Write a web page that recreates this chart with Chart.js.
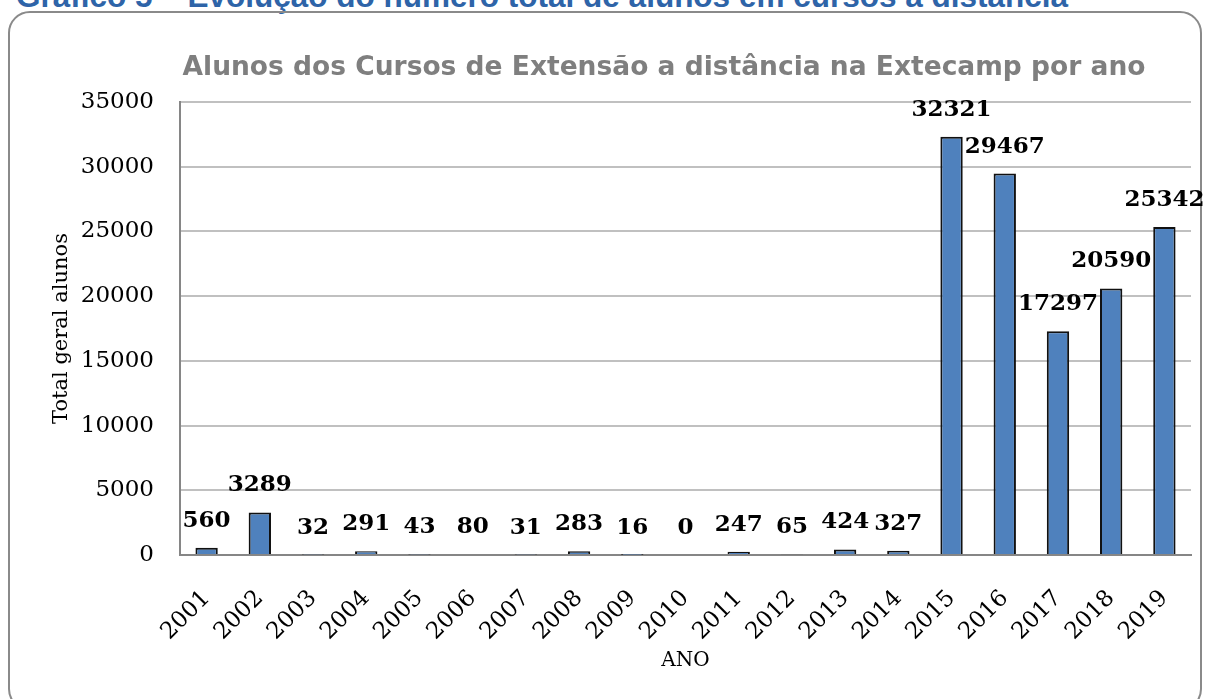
<!DOCTYPE html>
<html>
<head>
<meta charset="utf-8">
<script src="https://cdn.jsdelivr.net/npm/chart.js@4.4.1/dist/chart.umd.min.js"></script>
<style>
  html, body { margin: 0; padding: 0; background: #fff; }
  body { width: 1210px; height: 699px; position: relative; overflow: hidden; }
  #header { position: absolute; left: 16px; top: -22px; font-family: "Liberation Sans", Arial, sans-serif;
    font-weight: bold; font-size: 31.5px; color: #2E64A8; white-space: nowrap; line-height: 1.15; }
  #frame { position: absolute; left: 8px; top: 11px; width: 1194px; height: 700px; border: 2px solid #8a8a8a;
    border-radius: 22px; box-sizing: border-box; }
  #wrap { position: absolute; left: 0; top: 0; width: 1210px; height: 699px; }
</style>
</head>
<body>
<div id="header">Gráfico 5 – Evolução do número total de alunos em cursos a distância</div>
<div id="frame"></div>
<div id="wrap"><canvas id="c" width="1210" height="699"></canvas></div>
<script>
const categories = ["2001","2002","2003","2004","2005","2006","2007","2008","2009","2010","2011","2012","2013","2014","2015","2016","2017","2018","2019"];
const alunos = [560, 3289, 32, 291, 43, 80, 31, 283, 16, 0, 247, 65, 424, 327, 32321, 29467, 17297, 20590, 25342];
const yTicks = [0, 5000, 10000, 15000, 20000, 25000, 30000, 35000];

const chartTitle = "Alunos dos Cursos de Extensão a distância na Extecamp por ano";
const yTitle = "Total geral alunos";
const xTitle = "ANO";

const serif = '"DejaVu Serif", "Liberation Serif", serif';

const titleAndLabels = {
  id: 'titleAndLabels',
  afterDraw(chart) {
    const ctx = chart.ctx;
    ctx.save();
    ctx.font = 'bold 26.5px "DejaVu Sans", "Liberation Sans", sans-serif';
    ctx.fillStyle = '#7F7F7F';
    ctx.textAlign = 'center';
    ctx.textBaseline = 'middle';
    ctx.fillText(chartTitle, 664, 68);
    ctx.restore();
  },
  afterDatasetsDraw(chart) {
    const ctx = chart.ctx;
    const meta = chart.getDatasetMeta(0);
    ctx.save();
    ctx.font = 'bold 23px ' + serif;
    ctx.fillStyle = '#000';
    ctx.textAlign = 'center';
    ctx.textBaseline = 'middle';
    meta.data.forEach((bar, i) => {
      ctx.fillText(String(alunos[i]), bar.x, bar.y - 27);
    });
    ctx.restore();
  }
};

new Chart(document.getElementById('c'), {
  type: 'bar',
  data: {
    labels: categories,
    datasets: [{
      data: alunos,
      backgroundColor: '#4F81BD',
      borderColor: '#111',
      borderWidth: 2,
      borderSkipped: 'bottom',
      categoryPercentage: 1,
      barPercentage: 0.42
    }]
  },
  options: {
    responsive: false,
    animation: false,
    events: [],
    layout: { padding: { left: 0, right: 19, top: 102, bottom: 0 } },
    plugins: {
      legend: { display: false },
      tooltip: { enabled: false },
      title: { display: false }
    },
    scales: {
      x: {
        grid: { display: false, drawTicks: false },
        border: { color: '#868686', width: 2 },
        ticks: { color: '#000', font: { family: serif, size: 23 }, maxRotation: 45, minRotation: 45, padding: 30, autoSkip: false },
        title: { display: true, text: xTitle, color: '#000', font: { family: serif, size: 20 }, padding: { top: 0, bottom: 26 } },
        afterFit(scale) { scale.height = 144; scale.paddingRight = 0; scale.paddingLeft = 0; }
      },
      y: {
        min: 0, max: 35000,
        grid: { color: '#C0C0C0', lineWidth: 2, drawTicks: false },
        border: { color: '#868686', width: 2 },
        ticks: { color: '#000', font: { family: serif, size: 23 }, padding: 26, stepSize: 5000,
          callback: (v) => yTicks.includes(v) ? String(v) : '' },
        title: { display: true, text: yTitle, color: '#000', font: { family: serif, size: 21 }, padding: { top: 49, bottom: 0 } },
        afterFit(scale) { scale.width = 180; }
      }
    }
  },
  plugins: [titleAndLabels]
});
</script>
</body>
</html>
